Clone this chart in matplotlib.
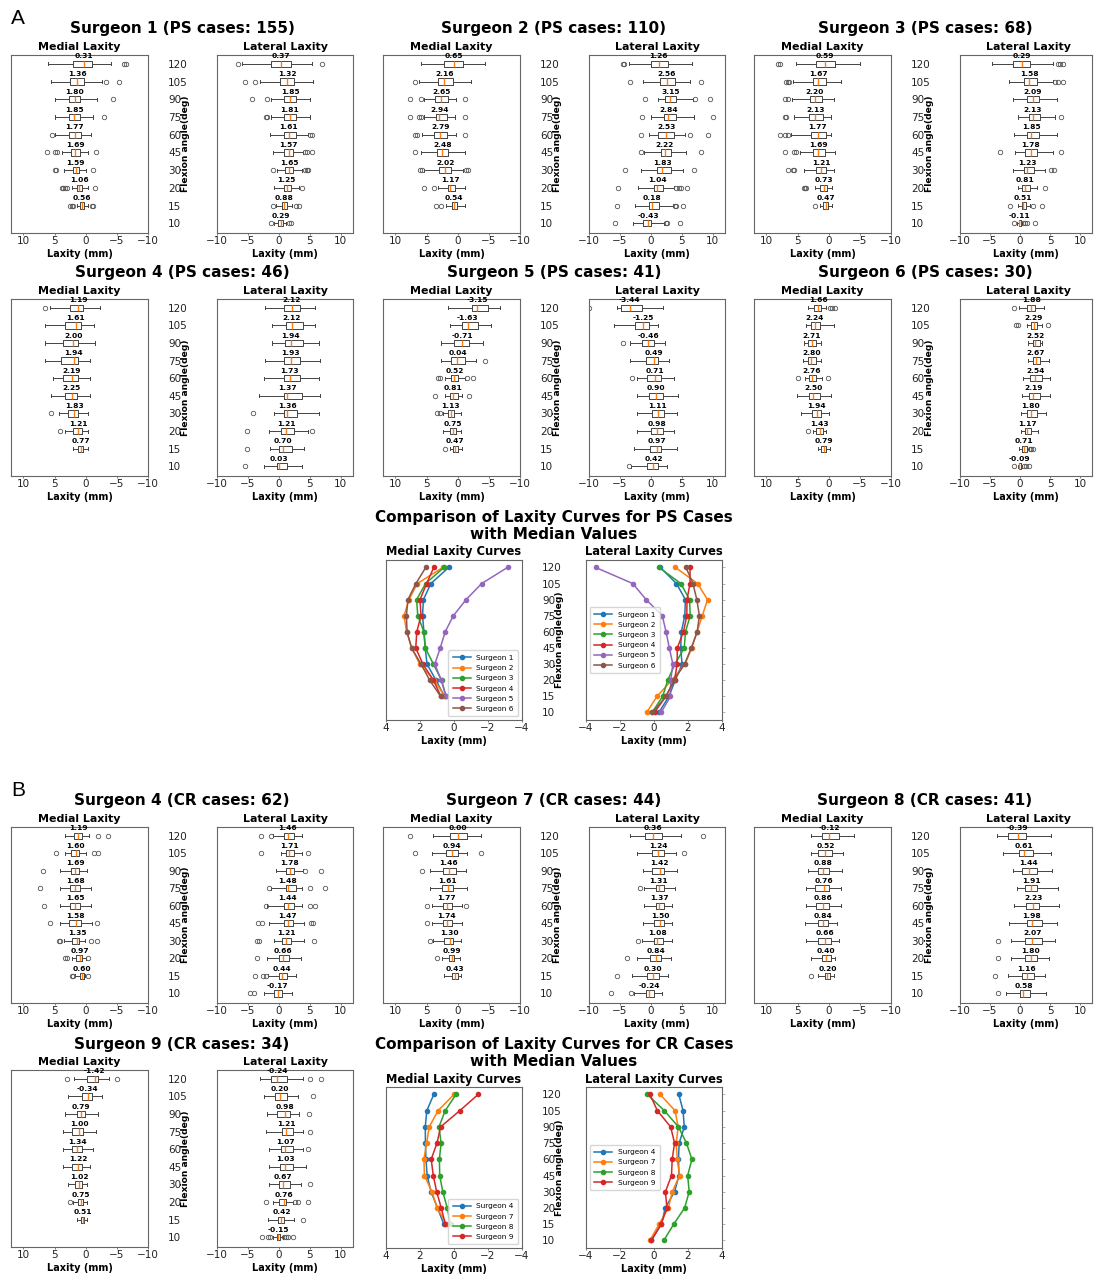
import matplotlib
matplotlib.use("Agg")
import matplotlib.pyplot as plt

ANGLES = [10, 15, 20, 30, 45, 60, 75, 90, 105, 120]

# one row per flexion angle, from 120 deg downwards:
# (median, box edge, box edge, whisker end, whisker end, outliers)
S1_PS_MED = [
    (0.31, -0.95, 2.07, -4.1, 6.0, [-6.1, -6.5]),
    (1.36, 0.2, 2.5, -2.6, 5.5, [-3.2, -5.3]),
    (1.80, 0.9, 2.76, -1.75, 5.0, [-4.3]),
    (1.85, 0.9, 2.76, -1.2, 5.0, [-3.0]),
    (1.77, 0.74, 2.76, -0.8, 4.9, [5.4]),
    (1.69, 0.9, 2.33, -0.4, 3.8, [6.2, 4.9, 4.6, -1.6]),
    (1.59, 1.0, 2.07, -0.05, 3.55, [4.9, 4.7, -1.2]),
    (1.06, 0.58, 1.43, -0.3, 2.2, [3.0, 3.3, 3.6, 3.8, -1.5]),
    (0.56, 0.27, 0.9, -0.4, 1.4, [2.0, 2.2, 2.5, -1.0, -1.2]),
]
S1_PS_LAT = [
    (0.37, -1.2, 2.0, -5.9, 5.4, [-6.6, 7.0]),
    (1.32, 0.15, 2.4, -3.0, 5.6, [-5.4, -3.9]),
    (1.85, 0.8, 2.7, -1.3, 5.1, [-4.3, -1.9]),
    (1.81, 0.8, 2.7, -1.2, 5.1, [-2.1, -1.9]),
    (1.61, 0.8, 2.7, -1.4, 4.7, [5.1, 5.4]),
    (1.57, 0.9, 2.3, -1.0, 3.9, [4.3, 4.6, 5.4]),
    (1.65, 1.07, 2.3, -0.3, 3.8, [-1.0, 4.3, 4.5, 4.8]),
    (1.25, 0.8, 1.9, -0.7, 3.2, [3.8]),
    (0.88, 0.5, 1.35, -0.5, 2.2, [-0.9, 2.7, 3.2]),
    (0.29, -0.15, 0.65, -0.8, 1.2, [-1.2, 1.6, 2.0]),
]
S2_PS_MED = [
    (0.65, -0.8, 2.2, -4.3, 5.9, []),
    (2.16, 0.8, 3.2, -2.1, 6.2, [6.8]),
    (2.65, 1.6, 3.6, 0.3, 5.4, [7.7, 5.9, -1.1]),
    (2.94, 1.7, 3.5, 0.5, 5.4, [7.7, 6.2, 5.9, -1.1]),
    (2.79, 1.7, 3.8, 0.3, 5.7, [6.8, 6.6, -1.2]),
    (2.48, 1.5, 3.4, -1.1, 5.9, [6.8]),
    (2.02, 1.1, 3.0, -0.8, 5.4, [5.7, 6.1, -1.4, -1.6]),
    (1.17, 0.4, 1.6, -1.1, 3.2, [5.4, 3.8]),
    (0.54, 0.15, 0.9, -1.1, 1.9, [3.5, 2.7]),
]
S2_PS_LAT = [
    (1.26, 0.0, 2.8, -3.6, 6.6, [-4.5, -4.3]),
    (2.56, 1.45, 3.9, -1.2, 6.3, [-3.4, 8.1]),
    (3.15, 2.25, 4.1, 1.1, 6.8, [-1.0, 7.2, 9.6]),
    (2.84, 2.1, 4.1, 0.0, 7.0, [-1.4, 10.0]),
    (2.53, 1.2, 3.75, -0.3, 5.6, [-1.6, 6.4, 9.3]),
    (2.22, 1.6, 3.3, -1.1, 5.7, [-1.6, 8.1]),
    (1.83, 1.0, 3.3, -1.6, 5.2, [-4.1, 7.0]),
    (1.04, 0.5, 1.9, -2.0, 3.75, [-5.3, 4.1, 4.5, 4.9, 5.9]),
    (0.18, -0.3, 1.3, -2.6, 3.6, [-5.4, 3.9, 4.1, 5.2]),
    (-0.43, -1.2, 0.0, -2.9, 2.2, [-5.8, 2.4, 2.6, 4.7]),
]
S3_PS_MED = [
    (0.59, -1.0, 2.0, -5.0, 5.3, [7.9, 8.2]),
    (1.67, 0.4, 2.6, -1.9, 5.7, [6.4, 6.6, 6.8]),
    (2.20, 1.1, 3.0, -0.9, 5.9, [7.1, 6.6]),
    (2.13, 0.9, 3.2, -0.4, 5.6, [6.8, 7.0]),
    (1.77, 0.5, 2.9, -0.4, 6.0, [7.9, 7.1, 6.5]),
    (1.69, 0.6, 2.5, -1.0, 4.6, [7.1, 5.6, 5.2]),
    (1.21, 0.5, 2.0, -0.9, 4.0, [6.6, 5.7, 5.5]),
    (0.73, 0.3, 1.4, -0.6, 2.2, [3.6, 3.8, 4.0]),
    (0.47, 0.1, 0.9, -0.6, 1.4, [2.2]),
]
S3_PS_LAT = [
    (0.29, -1.1, 1.7, -4.7, 5.5, [6.3, 6.7, 7.1]),
    (1.58, 0.65, 2.8, -1.8, 5.5, [5.9, 6.3, 7.1]),
    (2.09, 1.2, 3.2, -1.2, 6.1, []),
    (2.13, 1.45, 3.3, -0.3, 5.9, [6.8]),
    (1.85, 1.1, 3.2, -1.0, 6.1, []),
    (1.78, 0.9, 2.9, -0.8, 5.5, [-3.4, 6.8]),
    (1.23, 0.65, 2.25, -1.2, 4.1, [5.2, 5.6]),
    (0.81, 0.4, 1.6, -0.3, 2.8, [4.1]),
    (0.51, 0.3, 1.0, -0.3, 1.6, [-1.6, 2.1, 3.6]),
    (-0.11, -0.25, 0.2, -0.45, 0.4, [-1.0, 0.5, 0.8, 1.2, 2.5]),
]
S4_PS_MED = [
    (1.19, 0.4, 2.5, -2.3, 5.7, [6.6]),
    (1.61, 0.75, 3.4, -1.4, 6.5, []),
    (2.00, 1.2, 3.7, -1.5, 6.6, []),
    (1.94, 1.3, 4.0, -0.7, 6.6, []),
    (2.19, 1.3, 3.6, -0.7, 5.3, []),
    (2.25, 1.4, 3.3, -0.7, 5.6, []),
    (1.83, 1.3, 2.9, -0.3, 4.3, [5.5]),
    (1.21, 0.6, 2.0, -0.3, 3.3, [4.2]),
    (0.77, 0.5, 1.3, -0.3, 2.1, []),
]
S4_PS_LAT = [
    (2.12, 0.8, 3.5, -2.2, 5.8, []),
    (2.12, 1.1, 3.9, -1.1, 5.8, []),
    (1.94, 1.0, 3.9, -1.1, 6.5, []),
    (1.93, 0.8, 3.5, -2.2, 6.7, []),
    (1.73, 0.8, 3.5, -2.4, 6.5, []),
    (1.37, 0.8, 3.8, -3.2, 6.6, []),
    (1.36, 0.8, 3.0, -0.8, 6.5, [-4.1]),
    (1.21, 0.3, 2.4, -1.6, 4.8, [-5.1, 5.4]),
    (0.70, 0.0, 2.15, -1.5, 4.1, [-5.2]),
    (0.03, -0.3, 1.35, -2.4, 3.8, [-5.5]),
]
S5_PS_MED = [
    (-3.15, -4.9, -2.25, -6.8, 1.6, []),
    (-1.63, -3.3, -0.7, -5.4, 1.2, []),
    (-0.71, -1.8, 0.65, -4.0, 2.7, []),
    (0.04, -1.15, 1.1, -2.9, 2.7, [-4.45]),
    (0.52, -0.05, 1.05, -1.15, 2.0, [3.1, 2.85, -1.5, -2.5]),
    (0.81, 0.0, 1.3, -0.7, 2.0, [3.6, -1.8]),
    (1.13, 0.65, 1.5, -0.45, 2.3, [3.4, 2.85]),
    (0.75, 0.2, 1.2, -0.55, 2.4, []),
    (0.47, 0.0, 0.8, -0.7, 1.2, [2.0]),
]
S5_PS_LAT = [
    (-3.44, -4.75, -1.5, -5.4, 1.9, [-10.0]),
    (-1.25, -2.6, -0.3, -6.0, 1.1, []),
    (-0.46, -1.5, 0.55, -3.35, 2.3, [-4.5]),
    (0.49, -0.8, 1.2, -3.4, 3.0, []),
    (0.71, -0.55, 1.6, -2.2, 3.7, [-3.0]),
    (0.90, -0.3, 1.9, -2.2, 4.4, []),
    (1.11, 0.15, 2.15, -2.2, 4.3, []),
    (0.98, 0.0, 2.0, -2.3, 3.7, []),
    (0.97, -0.15, 1.6, -2.8, 4.2, []),
    (0.42, -0.55, 1.2, -3.2, 2.6, [-3.6]),
]
S6_PS_MED = [
    (1.66, 1.2, 2.4, 0.4, 3.3, [-0.2, -0.6, -1.0]),
    (2.24, 1.45, 2.8, -0.8, 3.6, []),
    (2.71, 2.0, 3.3, 1.3, 4.0, []),
    (2.80, 2.0, 3.3, 1.2, 4.1, []),
    (2.76, 2.0, 3.2, 1.05, 3.85, [4.9, 0.1]),
    (2.50, 1.45, 3.2, -0.3, 5.1, []),
    (1.94, 1.2, 2.7, -0.05, 4.5, []),
    (1.43, 0.9, 2.0, 0.4, 2.5, [3.4]),
    (0.79, 0.4, 1.2, -0.15, 1.8, []),
]
S6_PS_LAT = [
    (1.88, 1.2, 2.5, -0.15, 4.0, [-1.0]),
    (2.29, 1.9, 2.8, 1.1, 3.7, [-0.7, -0.3, 4.65]),
    (2.52, 2.1, 3.3, 1.3, 3.7, []),
    (2.67, 2.15, 3.4, 1.3, 4.8, []),
    (2.54, 1.7, 3.6, 0.55, 5.0, []),
    (2.19, 1.45, 3.3, 0.4, 5.0, []),
    (1.80, 1.2, 2.9, 0.2, 4.3, []),
    (1.17, 0.9, 1.9, 0.1, 3.05, []),
    (0.71, 0.4, 1.2, -0.15, 1.45, [1.7, 1.9, 2.1]),
    (-0.09, -0.15, 0.2, -0.3, 0.4, [-1.0, 0.65, 1.0, 1.45]),
]
S4_CR_MED = [
    (1.19, 0.65, 1.95, -0.6, 3.3, [-2.0, -3.6]),
    (1.60, 1.0, 2.3, -0.05, 3.3, [4.7, -1.4, -2.0]),
    (1.69, 1.0, 2.3, -0.25, 4.1, [6.9]),
    (1.68, 0.9, 2.6, -0.8, 4.2, [7.4]),
    (1.65, 0.9, 2.5, -0.8, 4.1, [6.7]),
    (1.58, 0.8, 2.75, -0.95, 4.1, [5.8, -1.85]),
    (1.35, 1.0, 2.2, 0.1, 3.5, [4.1, 4.3, -0.8, -1.75]),
    (0.97, 0.6, 1.5, -0.05, 2.2, [3.0, 3.3, -0.4]),
    (0.60, 0.35, 0.9, 0.1, 1.7, [2.0, 2.2, -0.4]),
]
S4_CR_LAT = [
    (1.46, 0.9, 2.4, -0.9, 3.8, [-2.85, -1.3]),
    (1.71, 1.2, 2.4, 0.3, 3.8, [-2.85, 4.8]),
    (1.78, 1.2, 2.5, -0.4, 3.9, [4.3, 6.8]),
    (1.48, 1.1, 2.7, -1.3, 3.8, [-1.6, 5.0, 7.4]),
    (1.44, 0.9, 2.4, -1.9, 3.8, [-2.15, 5.1, 5.9]),
    (1.47, 0.9, 2.3, -1.6, 4.0, [-3.4, -2.7, 5.2, 5.6]),
    (1.21, 0.55, 1.9, -0.8, 4.0, [-3.5, -3.2, 5.75]),
    (0.66, 0.0, 1.6, -1.9, 3.6, [-3.6]),
    (0.44, 0.0, 1.25, -1.8, 2.7, [-3.8, -2.5, -2.15]),
    (-0.17, -0.7, 0.55, -2.4, 2.15, [-4.6, -4.0]),
]
S7_CR_MED = [
    (0.00, -1.5, 1.2, -3.7, 4.0, [7.7]),
    (0.94, 0.0, 1.85, -1.5, 4.2, [6.9, -3.7]),
    (1.46, 0.3, 2.3, -1.4, 4.4, [5.8]),
    (1.61, 0.75, 2.5, -1.5, 4.4, []),
    (1.77, 0.9, 2.4, -0.7, 4.2, [4.9, -1.25]),
    (1.74, 0.9, 2.4, -0.7, 4.2, [4.9]),
    (1.30, 0.75, 2.15, -0.55, 3.9, [4.5]),
    (0.99, 0.65, 1.45, -0.3, 2.5, [3.35]),
    (0.43, 0.0, 0.9, -0.45, 2.2, []),
]
S7_CR_LAT = [
    (0.36, -1.0, 1.75, -3.35, 4.9, [8.4]),
    (1.24, 0.15, 2.15, -2.3, 4.05, [5.3]),
    (1.42, 0.15, 2.15, -1.2, 4.3, []),
    (1.31, 0.8, 2.15, -1.1, 3.9, [-1.75]),
    (1.37, 0.8, 2.15, -1.1, 3.5, []),
    (1.50, 0.45, 2.15, -1.2, 3.5, []),
    (1.08, 0.55, 2.05, -1.35, 3.5, [-2.15]),
    (0.84, -0.1, 1.6, -2.3, 3.25, [-3.9]),
    (0.30, -0.55, 1.35, -3.0, 2.8, [-5.4]),
    (-0.24, -0.8, 0.45, -2.7, 1.75, [-6.4, -3.2]),
]
S8_CR_MED = [
    (-0.12, -1.6, 1.05, -4.05, 2.8, []),
    (0.52, -0.55, 1.7, -2.3, 2.9, []),
    (0.88, -0.05, 1.8, -2.15, 3.3, []),
    (0.76, -0.05, 2.15, -1.9, 3.6, []),
    (0.86, -0.05, 2.0, -1.9, 3.6, []),
    (0.84, 0.1, 1.8, -1.25, 3.75, []),
    (0.66, -0.3, 1.8, -1.6, 3.6, []),
    (0.40, -0.3, 1.05, -1.05, 2.9, []),
    (0.20, -0.15, 0.65, -0.85, 1.7, [2.9]),
]
S8_CR_LAT = [
    (-0.39, -1.95, 1.0, -3.9, 5.2, []),
    (0.61, -0.15, 2.15, -2.85, 5.2, []),
    (1.44, 0.4, 2.9, -1.25, 5.4, []),
    (1.91, 0.75, 2.9, -0.55, 6.3, []),
    (2.23, 1.05, 3.2, -1.05, 6.5, []),
    (1.98, 1.2, 3.6, -1.9, 6.1, []),
    (2.07, 0.75, 3.6, -1.5, 5.75, [-3.65]),
    (1.80, 0.75, 2.8, -1.5, 4.8, [-3.65]),
    (1.16, 0.4, 2.25, -2.05, 4.1, [-4.2]),
    (0.58, 0.0, 1.7, -2.3, 4.4, [-3.75]),
]
S9_CR_MED = [
    (-1.42, -2.0, -0.25, -3.75, 1.85, [3.05, -5.0]),
    (-0.34, -0.95, 0.65, -2.55, 2.8, []),
    (0.79, 0.1, 1.45, -1.9, 3.3, []),
    (1.00, 0.4, 2.15, -1.65, 3.7, []),
    (1.34, 0.65, 2.25, -1.1, 3.6, []),
    (1.22, 0.65, 2.25, -0.7, 3.6, []),
    (1.02, 0.65, 1.7, -0.25, 2.8, []),
    (0.75, 0.5, 1.2, -0.25, 2.0, [2.5]),
    (0.51, 0.25, 0.75, -0.25, 1.45, []),
]
S9_CR_LAT = [
    (-0.24, -1.25, 1.35, -3.1, 3.85, [5.1, 6.8]),
    (0.20, -0.6, 1.35, -2.45, 3.15, [5.6]),
    (0.98, -0.25, 1.85, -1.85, 3.2, [4.9]),
    (1.21, 0.55, 2.25, -2.05, 3.85, [5.1]),
    (1.07, 0.35, 2.25, -1.6, 3.85, [4.75]),
    (1.03, 0.25, 2.35, -1.6, 4.4, []),
    (0.67, 0.0, 1.85, -1.6, 3.6, [5.1]),
    (0.76, 0.1, 1.2, -0.95, 2.25, [-2.05, 2.6, 3.05, 4.75]),
    (0.42, -0.15, 0.9, -1.75, 2.4, [3.85]),
    (-0.15, -0.25, 0.25, -0.95, 0.65, [-2.65, -1.75, -1.5, 0.9, 1.2, 1.45, 2.25]),
]

PS_NAMES = ["Surgeon 1", "Surgeon 2", "Surgeon 3", "Surgeon 4", "Surgeon 5", "Surgeon 6"]
CR_NAMES = ["Surgeon 4", "Surgeon 7", "Surgeon 8", "Surgeon 9"]

W, H = 1094, 1274
fig = plt.figure(figsize=(W / 100, H / 100), dpi=100)

LINE = "#444444"
SPINE = "#666666"


def rect(x0, y0, x1, y1):
    # pixel box (top-left origin) -> figure fraction
    return [x0 / W, 1 - y1 / H, (x1 - x0) / W, (y1 - y0) / H]


def ftext(x, y, s, **kw):
    fig.text(x / W, 1 - y / H, s, ha="center", va="center", **kw)


def positions(rows):
    # rows are listed from 120 deg downwards
    return [len(ANGLES) - i for i in range(len(rows))]


def style_x(ax, xlim, xticks):
    ax.set_xlim(*xlim)
    ax.set_xticks(xticks)
    ax.tick_params(axis="x", length=1.5, width=0.6, pad=1, labelsize=7.5,
                   labelcolor="#222222", color=SPINE)
    for sp in ax.spines.values():
        sp.set_color(SPINE)
        sp.set_linewidth(0.8)
    ax.set_xlabel("Laxity (mm)", fontsize=7, fontweight="bold", labelpad=1.5)


def angle_labels(ax, ylim):
    ax.set_ylim(*ylim)
    ax.yaxis.tick_right()
    ax.set_yticks(range(1, len(ANGLES) + 1), [str(a) for a in ANGLES])
    ax.tick_params(axis="y", length=0, pad=14.5, labelsize=7.5, labelcolor="#222222")


def flexion_label(ax, xpos):
    ax.set_ylabel("Flexion angle(deg)", fontsize=6.6, fontweight="bold")
    ax.yaxis.set_label_coords(xpos, 0.5)


def boxes(ax, rows):
    pos = positions(rows)
    stats = [dict(med=m, q1=min(a, b), q3=max(a, b), whislo=min(c, d), whishi=max(c, d), fliers=out)
             for m, a, b, c, d, out in rows]
    ax.bxp(stats, positions=pos, widths=0.36, orientation="horizontal", manage_ticks=False,
           boxprops=dict(color=LINE, lw=0.7), whiskerprops=dict(color=LINE, lw=0.7),
           capprops=dict(color=LINE, lw=0.7), medianprops=dict(color="#ff7f0e", lw=1.0),
           flierprops=dict(marker="o", mfc="none", mec="#555555", ms=3.2, mew=0.6))
    for p, s in zip(pos, stats):
        ax.text(s["med"], p + 0.42, f"{s['med']:.2f}", ha="center", va="center",
                fontsize=5.4, fontweight="bold")


def surgeon(title, med_rows, lat_rows, left, top, bottom):
    lat_left = left + 206
    lat_right = min(lat_left + 136, W - 2)
    ax_m = fig.add_axes(rect(left, top, left + 137, bottom))
    ax_l = fig.add_axes(rect(lat_left, top, lat_right, bottom))
    boxes(ax_m, med_rows)
    boxes(ax_l, lat_rows)
    style_x(ax_m, (12, -10), [10, 5, 0, -5, -10])
    style_x(ax_l, (-10, 12), [-10, -5, 0, 5, 10])
    angle_labels(ax_m, (0.45, 10.5))
    ax_l.set_ylim(0.45, 10.5)
    ax_l.set_yticks([])
    flexion_label(ax_l, -0.2)
    ftext((left + lat_left + 136) / 2, top - 26, title, fontsize=11, fontweight="bold")
    ftext(left + 68, top - 8, "Medial Laxity", fontsize=7.9, fontweight="bold")
    ftext(lat_left + 68, top - 8, "Lateral Laxity", fontsize=7.9, fontweight="bold")


def comparison(title, names, med_sets, lat_sets, top, bottom):
    ax_m = fig.add_axes(rect(386, top, 522, bottom))
    ax_l = fig.add_axes(rect(586, top, 722, bottom))
    for i, (name, mr, lr) in enumerate(zip(names, med_sets, lat_sets)):
        ax_m.plot([r[0] for r in mr], positions(mr), "-o", color=f"C{i}", lw=1.1, ms=3, label=name)
        ax_l.plot([r[0] for r in lr], positions(lr), "-o", color=f"C{i}", lw=1.1, ms=3, label=name)
    style_x(ax_m, (4, -4), [4, 2, 0, -2, -4])
    style_x(ax_l, (-4, 4), [-4, -2, 0, 2, 4])
    angle_labels(ax_m, (0.53, 10.46))
    ax_l.set_ylim(0.53, 10.46)
    ax_l.yaxis.tick_right()
    ax_l.set_yticks(range(1, len(ANGLES) + 1))
    ax_l.tick_params(axis="y", labelright=False, length=2, width=0.5, color="#999999")
    flexion_label(ax_l, -0.165)
    for ax, loc in ((ax_m, "lower right"), (ax_l, "center left")):
        ax.legend(loc=loc, fontsize=5.3, handlelength=2.4, borderpad=0.6, labelspacing=0.55,
                  edgecolor="#cccccc")
    ftext(554, top - 34, title, fontsize=11, fontweight="bold", linespacing=1.1)
    ftext(454, top - 8, "Medial Laxity Curves", fontsize=8.3, fontweight="bold")
    ftext(654, top - 8, "Lateral Laxity Curves", fontsize=8.3, fontweight="bold")


COLS = [11, 383, 754]

# A: posterior-stabilised cases
surgeon("Surgeon 1 (PS cases: 155)", S1_PS_MED, S1_PS_LAT, COLS[0], 55, 233)
surgeon("Surgeon 2 (PS cases: 110)", S2_PS_MED, S2_PS_LAT, COLS[1], 55, 233)
surgeon("Surgeon 3 (PS cases: 68)", S3_PS_MED, S3_PS_LAT, COLS[2], 55, 233)
surgeon("Surgeon 4 (PS cases: 46)", S4_PS_MED, S4_PS_LAT, COLS[0], 299, 476)
surgeon("Surgeon 5 (PS cases: 41)", S5_PS_MED, S5_PS_LAT, COLS[1], 299, 476)
surgeon("Surgeon 6 (PS cases: 30)", S6_PS_MED, S6_PS_LAT, COLS[2], 299, 476)
comparison("Comparison of Laxity Curves for PS Cases\nwith Median Values", PS_NAMES,
           [S1_PS_MED, S2_PS_MED, S3_PS_MED, S4_PS_MED, S5_PS_MED, S6_PS_MED],
           [S1_PS_LAT, S2_PS_LAT, S3_PS_LAT, S4_PS_LAT, S5_PS_LAT, S6_PS_LAT], 560, 720)

# B: cruciate-retaining cases
surgeon("Surgeon 4 (CR cases: 62)", S4_CR_MED, S4_CR_LAT, COLS[0], 827, 1003)
surgeon("Surgeon 7 (CR cases: 44)", S7_CR_MED, S7_CR_LAT, COLS[1], 827, 1003)
surgeon("Surgeon 8 (CR cases: 41)", S8_CR_MED, S8_CR_LAT, COLS[2], 827, 1003)
surgeon("Surgeon 9 (CR cases: 34)", S9_CR_MED, S9_CR_LAT, COLS[0], 1070, 1247)
comparison("Comparison of Laxity Curves for CR Cases\nwith Median Values", CR_NAMES,
           [S4_CR_MED, S7_CR_MED, S8_CR_MED, S9_CR_MED],
           [S4_CR_LAT, S7_CR_LAT, S8_CR_LAT, S9_CR_LAT], 1087, 1248)

ftext(18, 18, "A", fontsize=15, family="Liberation Sans")
ftext(18, 790, "B", fontsize=15, family="Liberation Sans")

fig.savefig("out.png", dpi=100)
